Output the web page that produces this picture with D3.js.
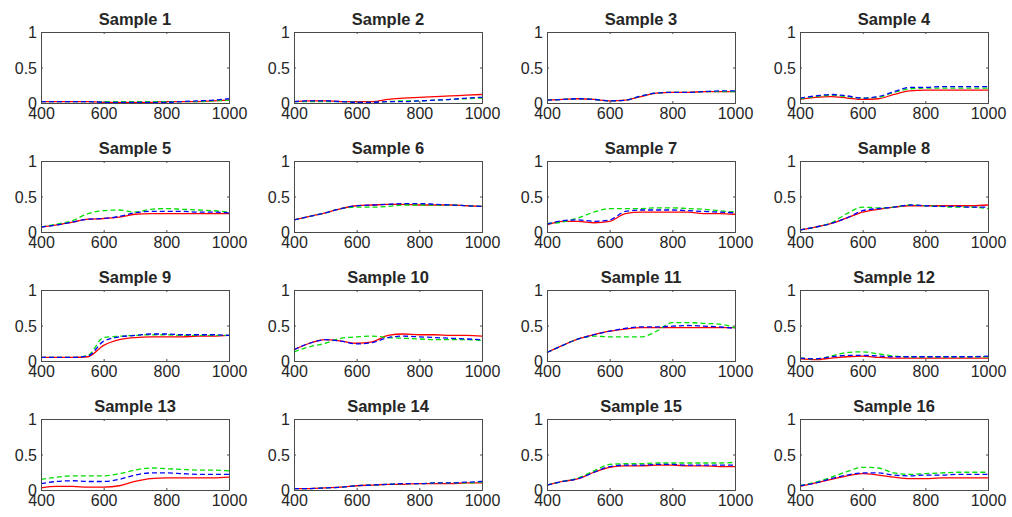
<!DOCTYPE html>
<html>
<head>
<meta charset="utf-8">
<script src="https://cdn.jsdelivr.net/npm/d3@7.9.0/dist/d3.min.js"></script>
<style>
  html, body { margin: 0; padding: 0; background: #fff; }
  svg text { font-family: "Liberation Sans", Arial, Helvetica, sans-serif; fill: #262626; }
</style>
</head>
<body>
<svg id="chart" width="1012" height="517"></svg>
<script>
const wavelengths = [400, 450, 500, 550, 600, 650, 700, 750, 800, 850, 900, 950, 1000];
const sampleNames = d3.range(1, 17).map((i) => `Sample ${i}`);
const xTicks = [400, 600, 800, 1000];
const yTicks = [0, 0.5, 1];

// solid red line
const redSeries = [
  [0.02, 0.02, 0.02, 0.02, 0.01, 0.01, 0.01, 0.01, 0.02, 0.02, 0.02, 0.03, 0.04],
  [0.02, 0.03, 0.03, 0.02, 0.02, 0.02, 0.05, 0.07, 0.08, 0.09, 0.10, 0.11, 0.12],
  [0.04, 0.05, 0.06, 0.05, 0.03, 0.04, 0.09, 0.14, 0.15, 0.15, 0.16, 0.16, 0.16],
  [0.05, 0.08, 0.09, 0.07, 0.05, 0.06, 0.12, 0.17, 0.18, 0.18, 0.18, 0.18, 0.18],
  [0.07, 0.10, 0.14, 0.18, 0.19, 0.21, 0.25, 0.26, 0.26, 0.26, 0.26, 0.26, 0.26],
  [0.17, 0.22, 0.27, 0.33, 0.37, 0.38, 0.39, 0.39, 0.38, 0.38, 0.38, 0.37, 0.36],
  [0.10, 0.15, 0.15, 0.13, 0.15, 0.26, 0.28, 0.28, 0.28, 0.28, 0.26, 0.26, 0.25],
  [0.03, 0.07, 0.12, 0.20, 0.28, 0.32, 0.35, 0.37, 0.37, 0.37, 0.37, 0.37, 0.38],
  [0.05, 0.05, 0.05, 0.06, 0.22, 0.30, 0.33, 0.34, 0.34, 0.34, 0.35, 0.35, 0.36],
  [0.16, 0.25, 0.30, 0.28, 0.25, 0.27, 0.36, 0.38, 0.37, 0.37, 0.36, 0.36, 0.35],
  [0.12, 0.22, 0.31, 0.37, 0.42, 0.45, 0.47, 0.47, 0.47, 0.47, 0.47, 0.47, 0.47],
  [0.03, 0.02, 0.04, 0.06, 0.07, 0.05, 0.04, 0.04, 0.04, 0.04, 0.04, 0.04, 0.04],
  [0.03, 0.05, 0.05, 0.04, 0.04, 0.06, 0.12, 0.16, 0.17, 0.17, 0.17, 0.17, 0.18],
  [0.02, 0.02, 0.03, 0.04, 0.06, 0.07, 0.08, 0.08, 0.09, 0.09, 0.09, 0.10, 0.10],
  [0.07, 0.12, 0.16, 0.25, 0.32, 0.34, 0.34, 0.35, 0.35, 0.34, 0.34, 0.33, 0.33],
  [0.05, 0.10, 0.15, 0.20, 0.23, 0.21, 0.18, 0.16, 0.16, 0.17, 0.17, 0.17, 0.17]
];

// dashed blue line
const blueSeries = [
  [0.02, 0.02, 0.02, 0.02, 0.01, 0.01, 0.01, 0.01, 0.01, 0.02, 0.03, 0.04, 0.06],
  [0.02, 0.03, 0.03, 0.02, 0.01, 0.01, 0.02, 0.02, 0.03, 0.04, 0.05, 0.07, 0.08],
  [0.04, 0.05, 0.06, 0.05, 0.03, 0.04, 0.10, 0.14, 0.15, 0.15, 0.16, 0.17, 0.17],
  [0.07, 0.10, 0.12, 0.10, 0.07, 0.09, 0.16, 0.22, 0.22, 0.23, 0.23, 0.23, 0.23],
  [0.07, 0.10, 0.14, 0.18, 0.19, 0.22, 0.27, 0.29, 0.29, 0.29, 0.28, 0.28, 0.27],
  [0.17, 0.22, 0.27, 0.33, 0.37, 0.38, 0.39, 0.40, 0.40, 0.39, 0.38, 0.37, 0.36],
  [0.11, 0.16, 0.17, 0.15, 0.17, 0.29, 0.31, 0.31, 0.31, 0.30, 0.29, 0.28, 0.27],
  [0.03, 0.07, 0.12, 0.20, 0.30, 0.33, 0.35, 0.38, 0.37, 0.36, 0.36, 0.35, 0.35],
  [0.05, 0.05, 0.05, 0.07, 0.28, 0.34, 0.36, 0.38, 0.38, 0.37, 0.37, 0.37, 0.36],
  [0.16, 0.25, 0.30, 0.28, 0.24, 0.26, 0.33, 0.35, 0.34, 0.33, 0.32, 0.31, 0.30],
  [0.12, 0.22, 0.31, 0.37, 0.42, 0.46, 0.48, 0.48, 0.49, 0.50, 0.49, 0.48, 0.46],
  [0.04, 0.03, 0.06, 0.08, 0.08, 0.07, 0.06, 0.06, 0.06, 0.06, 0.06, 0.06, 0.07],
  [0.09, 0.12, 0.13, 0.12, 0.12, 0.15, 0.21, 0.24, 0.24, 0.23, 0.22, 0.22, 0.22],
  [0.02, 0.02, 0.03, 0.04, 0.06, 0.07, 0.08, 0.09, 0.09, 0.10, 0.10, 0.11, 0.12],
  [0.07, 0.12, 0.16, 0.25, 0.33, 0.35, 0.35, 0.36, 0.36, 0.35, 0.35, 0.35, 0.35],
  [0.06, 0.10, 0.16, 0.21, 0.24, 0.24, 0.21, 0.20, 0.21, 0.21, 0.22, 0.22, 0.22]
];

// dashed green line
const greenSeries = [
  [0.02, 0.02, 0.02, 0.02, 0.02, 0.02, 0.02, 0.02, 0.02, 0.02, 0.02, 0.03, 0.04],
  [0.02, 0.02, 0.02, 0.02, 0.01, 0.01, 0.02, 0.03, 0.03, 0.04, 0.05, 0.06, 0.07],
  [0.04, 0.05, 0.06, 0.05, 0.03, 0.04, 0.10, 0.14, 0.15, 0.15, 0.16, 0.16, 0.16],
  [0.06, 0.09, 0.11, 0.09, 0.07, 0.08, 0.15, 0.20, 0.21, 0.21, 0.21, 0.21, 0.21],
  [0.07, 0.11, 0.16, 0.26, 0.30, 0.31, 0.28, 0.32, 0.33, 0.32, 0.31, 0.30, 0.28],
  [0.17, 0.22, 0.27, 0.33, 0.35, 0.35, 0.36, 0.38, 0.38, 0.38, 0.38, 0.37, 0.36],
  [0.12, 0.14, 0.20, 0.28, 0.33, 0.33, 0.33, 0.34, 0.34, 0.33, 0.32, 0.30, 0.28],
  [0.03, 0.07, 0.13, 0.26, 0.35, 0.34, 0.35, 0.38, 0.37, 0.36, 0.35, 0.35, 0.33],
  [0.05, 0.05, 0.05, 0.08, 0.33, 0.35, 0.36, 0.37, 0.37, 0.36, 0.36, 0.36, 0.36],
  [0.13, 0.20, 0.25, 0.32, 0.34, 0.35, 0.33, 0.32, 0.31, 0.30, 0.30, 0.30, 0.29],
  [0.12, 0.22, 0.31, 0.35, 0.34, 0.34, 0.34, 0.42, 0.54, 0.54, 0.53, 0.52, 0.47],
  [0.04, 0.03, 0.07, 0.12, 0.13, 0.10, 0.07, 0.06, 0.06, 0.06, 0.06, 0.06, 0.06],
  [0.15, 0.18, 0.20, 0.20, 0.20, 0.23, 0.28, 0.31, 0.30, 0.29, 0.28, 0.28, 0.27],
  [0.02, 0.02, 0.03, 0.04, 0.06, 0.07, 0.08, 0.09, 0.09, 0.10, 0.10, 0.10, 0.11],
  [0.07, 0.12, 0.17, 0.27, 0.36, 0.37, 0.37, 0.38, 0.38, 0.38, 0.38, 0.38, 0.39],
  [0.06, 0.11, 0.18, 0.26, 0.32, 0.31, 0.24, 0.22, 0.23, 0.24, 0.25, 0.25, 0.25]
];

const svg = d3.select('#chart');
const colLeft = [41, 294, 547, 800];
const rowTop = [32, 161, 290, 419];
const panelW = 188;
const panelH = 71;
const axisColor = '#4a4a4a';

const seriesDefs = [
  { data: redSeries, color: '#ff0000', dash: null },
  { data: greenSeries, color: '#00e000', dash: '5,3' },
  { data: blueSeries, color: '#0000ff', dash: '5,3' }
];

sampleNames.forEach((name, i) => {
  const g = svg.append('g')
    .attr('transform', `translate(${colLeft[i % 4]},${rowTop[Math.floor(i / 4)]})`);

  const x = d3.scaleLinear().domain([400, 1000]).range([0, panelW]);
  const y = d3.scaleLinear().domain([0, 1]).range([panelH, 0]);

  const line = d3.line()
    .x((d, k) => x(wavelengths[k]))
    .y((d) => y(d))
    .curve(d3.curveMonotoneX);

  seriesDefs.forEach((s) => {
    g.append('path')
      .attr('d', line(s.data[i]))
      .attr('fill', 'none')
      .attr('stroke', s.color)
      .attr('stroke-width', 1.3)
      .attr('stroke-dasharray', s.dash);
  });

  // axes, ticks pointing inward like MATLAB
  const xAxis = g.append('g')
    .attr('transform', `translate(0,${panelH})`)
    .call(d3.axisBottom(x).tickValues(xTicks).tickSize(-2).tickFormat(d3.format('d')));
  const yAxis = g.append('g')
    .call(d3.axisLeft(y).tickValues(yTicks).tickSize(-2).tickFormat((d) => String(d)));
  g.append('g')
    .call(d3.axisTop(x).tickValues(xTicks).tickSize(-2).tickFormat(''));
  g.append('g')
    .attr('transform', `translate(${panelW},0)`)
    .call(d3.axisRight(y).tickValues(yTicks).tickSize(-2).tickFormat(''));

  g.selectAll('.domain, .tick line').attr('stroke', axisColor).attr('stroke-width', 1);
  g.selectAll('.tick text')
    .attr('fill', '#262626')
    .style('font-size', '16px')
    .style('font-family', '"Liberation Sans", Arial, sans-serif');
  xAxis.selectAll('.tick text').attr('dy', null).attr('y', 16);
  yAxis.selectAll('.tick text').attr('x', -4).attr('dy', '0.36em');

  g.append('text')
    .attr('x', panelW / 2)
    .attr('y', -7)
    .attr('text-anchor', 'middle')
    .style('font-size', '16.5px')
    .style('font-weight', 'bold')
    .text(name);
});
</script>
</body>
</html>
